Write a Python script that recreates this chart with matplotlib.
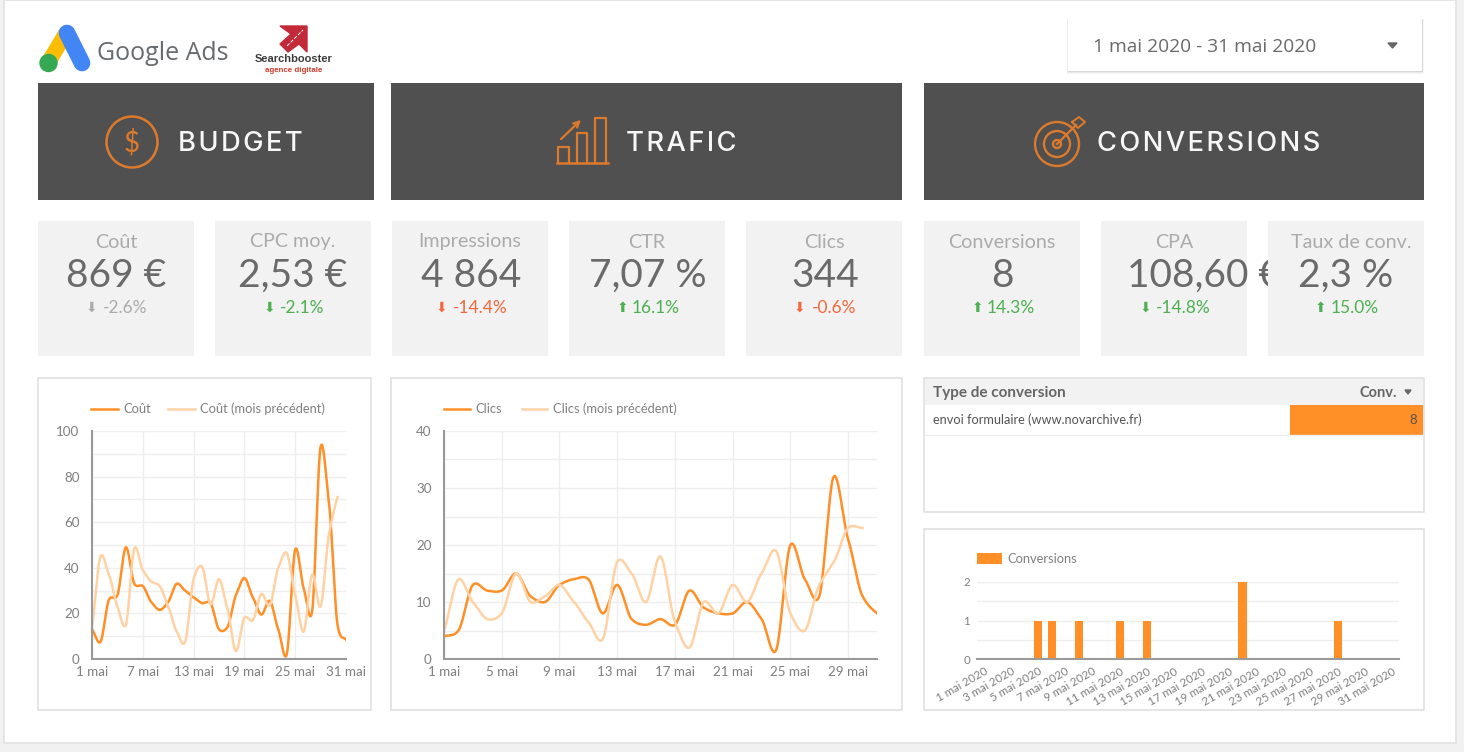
import numpy as np
import matplotlib.pyplot as plt

plt.rcParams['font.family'] = ['Lato', 'DejaVu Sans']

ORANGE = "#ff8f26"
PALE = "#ffd2a6"
ICON = "#dd7a2c"
GRID = "#eeeeee"
AXIS = "#9a9a9a"
TEXT = "#7f7f7f"

# Smooth curve through the daily values
def smooth(days, values, step = 0.05):
    days = np.asarray(days, dtype = float)
    values = np.asarray(values, dtype = float)
    slopes = 0.75 * np.gradient(values, days)
    res_x = []
    res_y = []
    for i in range(len(days) - 1):
        for t in np.arange(0, 1, step):
            h00 = 2 * t ** 3 - 3 * t ** 2 + 1
            h10 = t ** 3 - 2 * t ** 2 + t
            h01 = -2 * t ** 3 + 3 * t ** 2
            h11 = t ** 3 - t ** 2
            res_x.append(days[i] + t)
            res_y.append(h00 * values[i] + h10 * slopes[i] + h01 * values[i + 1] + h11 * slopes[i + 1])
    res_x.append(days[-1])
    res_y.append(values[-1])
    return res_x, res_y

# Axes placed with pixel coordinates of the picture
def pixel_axes(left, top, right, bottom):
    return plt.axes([left / 1464, 1 - bottom / 752, (right - left) / 1464, (bottom - top) / 752])

# Rectangle on the page layer
def box(left, top, right, bottom, color, edge = "none", z = 1, lw = 1.2, alpha = None):
    plt.gca().add_patch(plt.Rectangle((left, top), right - left, bottom - top, facecolor = color, edgecolor = edge, linewidth = lw, zorder = z, alpha = alpha))

# Daily values
cout = [13, 7.5, 26, 28, 49, 33, 32, 25, 21.5, 25, 33, 30, 27, 24.5, 24.5, 13, 14, 28, 35.5, 27, 19.5, 25.5, 13, 2, 48, 31, 21, 93, 68, 15, 8.5]
cout_prev = [14, 45, 37, 23, 15, 48.5, 39, 34, 32, 23, 12, 7.5, 35, 40.5, 24, 35, 22, 3.5, 18, 17, 28.5, 23.5, 40, 46.5, 28, 12, 37, 23, 55, 71]
clics = [4, 5, 13, 12, 12, 15, 11, 10, 13, 14, 14, 8, 13, 7, 6, 7, 6, 12, 9, 8, 8, 10, 7, 1.5, 20, 14, 11, 32, 21, 11, 8]
clics_prev = [5, 14, 10, 7, 8, 15, 10, 11, 13, 10, 6.5, 3.5, 17, 15, 10, 18, 6.5, 2, 10, 8, 13, 10, 15, 19, 8, 5, 13, 17, 23, 23]
conv_days = [5, 6, 8, 11, 13, 20, 27]
conv_values = [1, 1, 1, 1, 1, 2, 1]

plt.figure(figsize = (14.64, 7.52), dpi = 100, facecolor = "#f1f1f1")

# Page layer, pixels of the picture
page = plt.axes([0, 0, 1, 1])
plt.xlim(0, 1464)
plt.ylim(752, 0)
plt.axis("off")
box(4, 0, 1456, 743, "white", edge = "#e2e2e2")

# Google Ads logo
plt.plot([66, 48], [33, 63], color = "#fbbc04", linewidth = 11, solid_capstyle = "round", zorder = 2)
plt.plot([67, 82], [33, 63], color = "#4285f4", linewidth = 12, solid_capstyle = "round", zorder = 3)
plt.gca().add_patch(plt.Circle((48.5, 63), 8.5, color = "#34a853", zorder = 4))
plt.text(97, 53, "Google Ads", fontsize = 18, family = "Open Sans", color = "#686b6e", va = "center")

# Searchbooster logo
plt.fill([280, 307, 307, 299, 288, 280, 291], [26, 26, 52, 44, 52, 44, 34], color = "#c22a3a", zorder = 2)
plt.plot([287, 303], [46, 30], color = "white", linewidth = 0.7, linestyle = "--", zorder = 3)
plt.text(293.5, 59.5, "Searchbooster", fontsize = 8, family = "Liberation Sans", fontweight = "bold", color = "#3c3c3c", ha = "center", va = "center")
plt.text(293.5, 70.5, "agence digitale", fontsize = 5.7, family = "Liberation Sans", fontweight = "bold", color = "#d43a2a", ha = "center", va = "center")

# Date selector
for grow, alpha in [(3, 0.03), (2, 0.05), (1, 0.08)]:
    box(1068 - grow / 2, 19, 1422 + grow / 2, 71 + grow, "black", z = 1, alpha = alpha)
box(1068, 19, 1422, 71, "white", z = 2)
plt.text(1093, 47.5, "1 mai 2020 - 31 mai 2020", fontsize = 13.8, family = "Open Sans", color = "#6a6a6a", va = "center", zorder = 3)
plt.fill([1388, 1397, 1392.5], [43, 43, 48], color = "#666666", zorder = 3)

# Dark headers
headers = [(38, 374, "BUDGET", 240), (391, 902, "TRAFIC", 681.5), (924, 1424, "CONVERSIONS", 1209)]
for left, right, label, centre in headers:
    box(left, 83, right, 200, "#505050")
    plt.text(centre, 144, "\u200a".join(label), fontsize = 19.7, family = "Inter", fontweight = "medium", color = "#f7f7f7", ha = "center", va = "center", zorder = 2)

# Budget icon
plt.gca().add_patch(plt.Circle((132, 142), 25.5, fill = False, edgecolor = ICON, linewidth = 1.8, zorder = 2))
plt.text(132, 143, "$", fontsize = 20, family = "Lato", color = ICON, ha = "center", va = "center", zorder = 2)

# Trafic icon
for left, right, top in [(558, 569, 147), (577, 587, 133), (595, 606, 118)]:
    plt.plot([left, left, right, right], [163, top, top, 163], color = ICON, linewidth = 1.6, zorder = 2)
plt.plot([557, 608], [163, 163], color = ICON, linewidth = 1.8, zorder = 2)
plt.annotate("", xy = (583, 118), xytext = (559, 141), arrowprops = dict(arrowstyle = "->", color = ICON, linewidth = 1.6), zorder = 2)

# Conversions icon
for radius in [22, 13, 4]:
    plt.gca().add_patch(plt.Circle((1057, 144), radius, fill = False, edgecolor = ICON, linewidth = 1.7, zorder = 2))
plt.plot([1057, 1076], [144, 125], color = ICON, linewidth = 1.6, zorder = 2)
plt.plot([1072, 1079, 1085, 1078, 1072], [122, 117, 122, 128, 122], color = ICON, linewidth = 1.4, zorder = 2)

# KPI cards: left, right, title, value, arrow, delta, colour, title centre, value centre, arrow x, delta centre
green = "#4caf50"
red = "#f2673c"
grey = "#ababab"
cards = [
    (38, 194, "Coût", "869 €", "⬇", "-2.6%", grey, 116, 116, 91, 125),
    (215, 371, "CPC moy.", "2,53 €", "⬇", "-2.1%", green, 293, 293, 269, 302.5),
    (392, 548, "Impressions", "4 864", "⬇", "-14.4%", red, 470, 471, 441, 480),
    (569, 725, "CTR", "7,07 %", "⬆", "16.1%", green, 647, 648, 622, 655.5),
    (746, 902, "Clics", "344", "⬇", "-0.6%", red, 824, 825, 799, 834),
    (924, 1080, "Conversions", "8", "⬆", "14.3%", green, 1002, 1002, 977, 1011),
    (1101, 1247, "CPA", "108,60 €", "⬇", "-14.8%", green, 1174, 1204, 1145, 1183),
    (1268, 1424, "Taux de conv.", "2,3 %", "⬆", "15.0%", green, 1351, 1346, 1320, 1355),
]
for i, (left, right, title, value, arrow, delta, color, centre, value_x, arrow_x, delta_x) in enumerate(cards):
    box(left, 221, right, 356, "#f2f2f2", z = 2 + i * 2)
    plt.text(centre, 242, title, fontsize = 14.2, color = "#ababab", ha = "center", va = "center", zorder = 3 + i * 2)
    plt.text(value_x, 276, value, fontsize = 28, color = "#6a6a6a", ha = "center", va = "center", zorder = 3 + i * 2)
    plt.text(delta_x, 308, delta, fontsize = 12.5, color = color, ha = "center", va = "center", zorder = 3 + i * 2)
    plt.text(arrow_x, 307.5, arrow, fontsize = 10, family = "DejaVu Sans", color = color, ha = "center", va = "center", zorder = 3 + i * 2)

# Panels
box(38, 378, 371, 710, "white", edge = "#e0e0e0")
box(391, 378, 902, 710, "white", edge = "#e0e0e0")
box(924, 378, 1424, 512, "white", edge = "#e0e0e0")
box(924, 529, 1424, 710, "white", edge = "#e0e0e0")

# Conversion table
box(925, 379, 1423, 405, "#f2f2f2", z = 2)
box(1290, 405, 1423, 435, ORANGE, z = 2)
plt.plot([925, 1423], [435, 435], color = "#eeeeee", linewidth = 1, zorder = 2)
plt.text(933, 393, "Type de conversion", fontsize = 11, fontweight = "bold", color = "#666666", va = "center", zorder = 3)
plt.text(1397, 393, "Conv.", fontsize = 10.5, fontweight = "bold", color = "#666666", ha = "right", va = "center", zorder = 3)
plt.fill([1405, 1411, 1408], [390, 390, 394], color = "#666666", zorder = 3)
plt.text(933, 420, "envoi formulaire (www.novarchive.fr)", fontsize = 9.2, color = "#555555", va = "center", zorder = 3)
plt.text(1417, 420, "8", fontsize = 9.5, color = "#555555", ha = "right", va = "center", zorder = 3)

# Line chart of cost
pixel_axes(92, 431, 346, 659)
plt.gca().patch.set_alpha(0)
x, y = smooth(range(1, 32), cout)
plt.plot(x, y, color = ORANGE, linewidth = 1.8, label = "Coût")
x, y = smooth(range(1, 31), cout_prev)
plt.plot(x, y, color = PALE, linewidth = 1.8, label = "Coût (mois précédent)")
plt.xlim(1, 31)
plt.ylim(0, 100)
plt.xticks(range(1, 32, 6), ["%d mai" % d for d in range(1, 32, 6)])
plt.yticks(range(0, 101, 20))
plt.yticks(range(10, 100, 20), minor = True)
plt.grid(which = "both", color = GRID, linewidth = 1)
plt.gca().set_axisbelow(True)
plt.tick_params(which = "both", length = 0, labelsize = 9.6, labelcolor = TEXT)
plt.tick_params(axis = "x", pad = 5)
plt.tick_params(axis = "y", pad = 9)
for side in ["top", "right"]:
    plt.gca().spines[side].set_visible(False)
for side in ["left", "bottom"]:
    plt.gca().spines[side].set_color(AXIS)
    plt.gca().spines[side].set_linewidth(1.5)
plt.legend(loc = "lower left", bbox_to_anchor = (-0.004, 1.07), ncol = 2, frameon = False, fontsize = 9.3, labelcolor = TEXT, handlelength = 2.1, columnspacing = 1.3, handletextpad = 0.4, borderaxespad = 0, borderpad = 0)

# Line chart of clicks
pixel_axes(444, 431, 877, 659)
plt.gca().patch.set_alpha(0)
x, y = smooth(range(1, 32), clics)
plt.plot(x, y, color = ORANGE, linewidth = 1.8, label = "Clics")
x, y = smooth(range(1, 31), clics_prev)
plt.plot(x, y, color = PALE, linewidth = 1.8, label = "Clics (mois précédent)")
plt.xlim(1, 31)
plt.ylim(0, 40)
plt.xticks(range(1, 30, 4), ["%d mai" % d for d in range(1, 30, 4)])
plt.yticks(range(0, 41, 10))
plt.yticks(range(5, 40, 10), minor = True)
plt.grid(which = "both", color = GRID, linewidth = 1)
plt.gca().set_axisbelow(True)
plt.tick_params(which = "both", length = 0, labelsize = 9.6, labelcolor = TEXT)
plt.tick_params(axis = "x", pad = 5)
plt.tick_params(axis = "y", pad = 9)
for side in ["top", "right"]:
    plt.gca().spines[side].set_visible(False)
for side in ["left", "bottom"]:
    plt.gca().spines[side].set_color(AXIS)
    plt.gca().spines[side].set_linewidth(1.5)
plt.legend(loc = "lower left", bbox_to_anchor = (0, 1.07), ncol = 2, frameon = False, fontsize = 9.3, labelcolor = TEXT, handlelength = 2.0, columnspacing = 1.55, handletextpad = 0.4, borderaxespad = 0, borderpad = 0)

# Bar chart of conversions
pixel_axes(977, 582, 1399, 659)
plt.gca().patch.set_alpha(0)
plt.bar(conv_days, conv_values, width = 0.6, color = ORANGE, label = "Conversions")
plt.xlim(0.5, 31.5)
plt.ylim(0, 2)
plt.xticks(range(1, 32, 2), ["%d mai 2020" % d for d in range(1, 32, 2)], rotation = 30, ha = "right", rotation_mode = "anchor")
plt.yticks([0, 1, 2])
plt.yticks([0.5, 1.5], minor = True)
plt.grid(axis = "y", which = "both", color = GRID, linewidth = 1)
plt.gca().set_axisbelow(True)
plt.tick_params(which = "both", length = 0, labelsize = 8.3, labelcolor = TEXT, pad = 5)
for side in ["top", "right", "left"]:
    plt.gca().spines[side].set_visible(False)
plt.gca().spines["bottom"].set_color(AXIS)
plt.gca().spines["bottom"].set_linewidth(1.5)
plt.legend(loc = "lower left", bbox_to_anchor = (0, 1.22), frameon = False, fontsize = 9.3, labelcolor = TEXT, handlelength = 1.95, handleheight = 0.9, handletextpad = 0.4, borderaxespad = 0, borderpad = 0)

plt.savefig("out.png", dpi = 100)
